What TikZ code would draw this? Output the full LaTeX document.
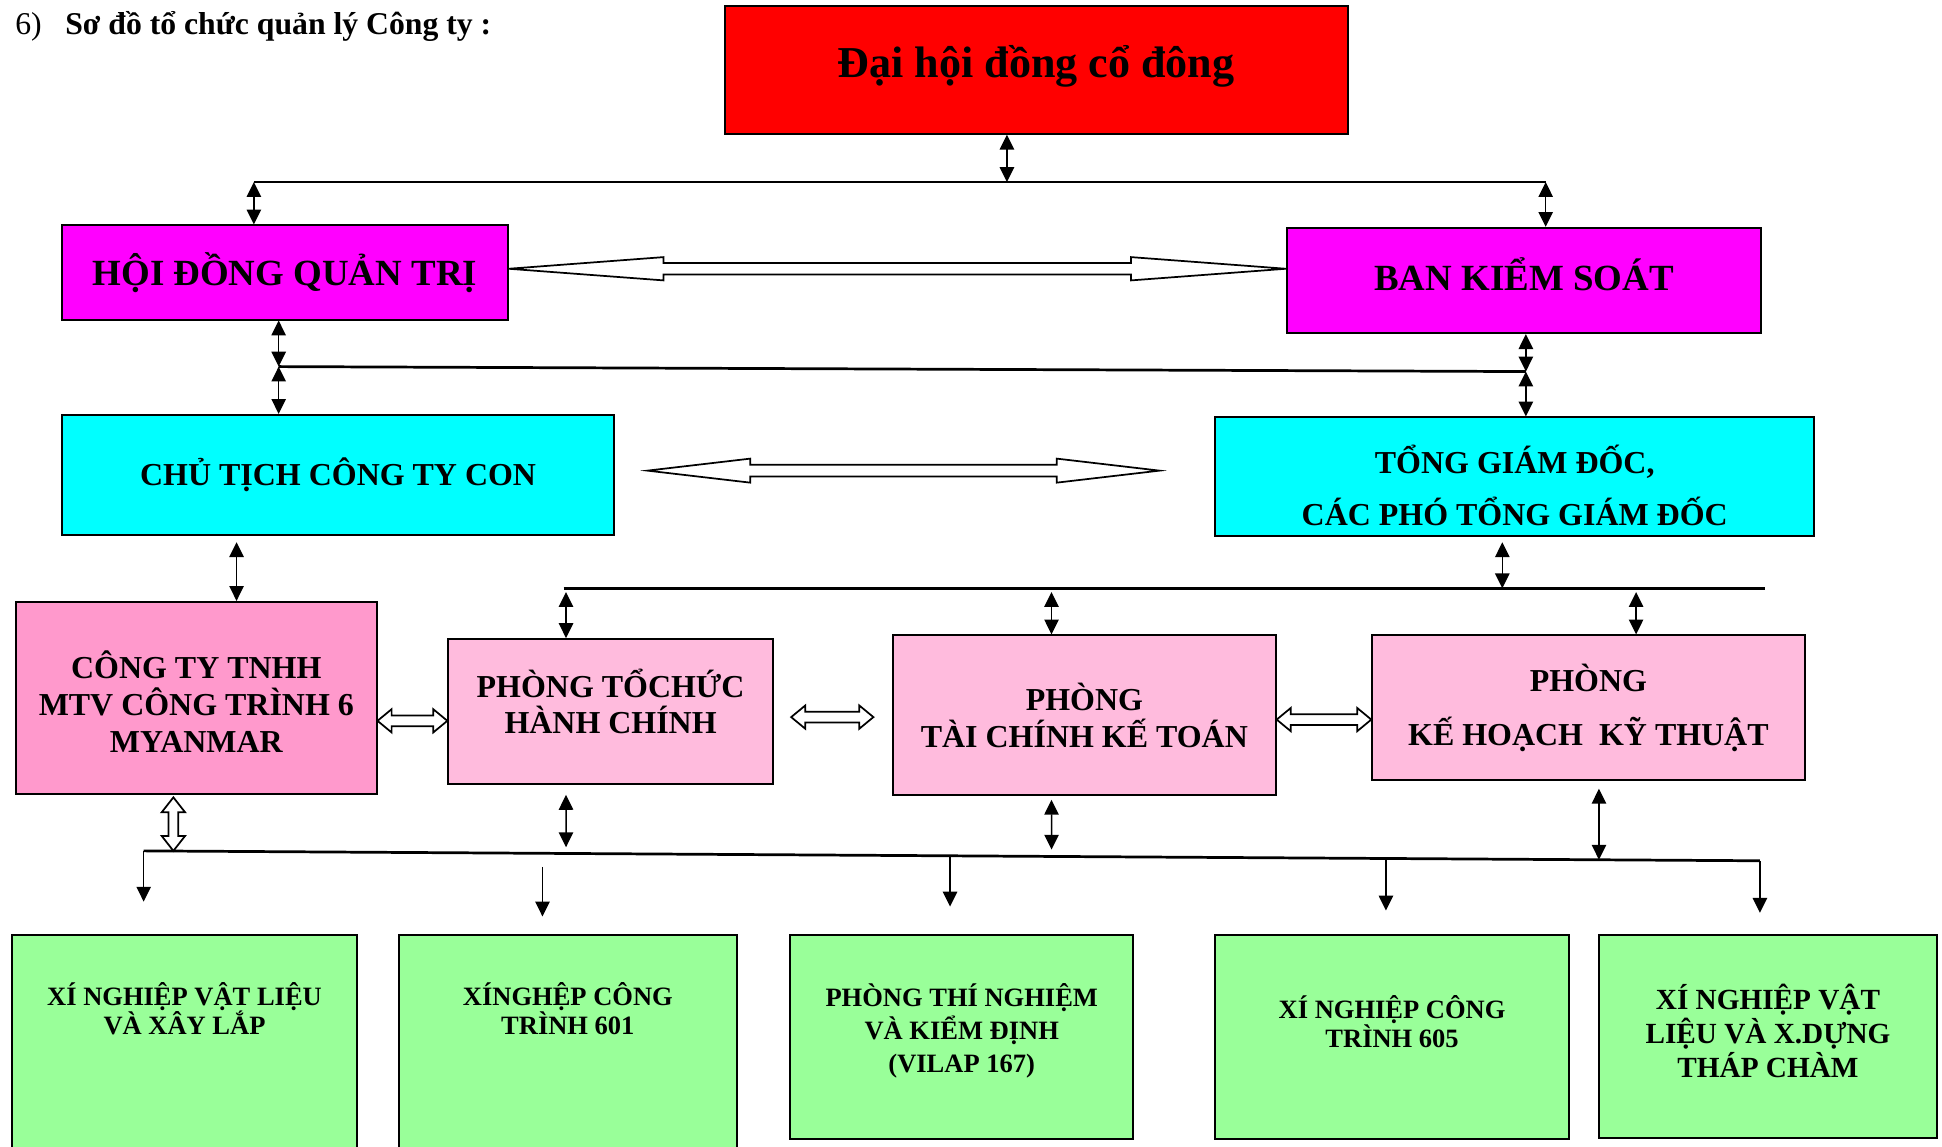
\documentclass[tikz,border=0pt]{standalone}
\usepackage{fontspec}
\setmainfont{Liberation Serif}
\usetikzlibrary{arrows.meta,calc}
\definecolor{hotpink}{RGB}{255,153,204}
\definecolor{lpink}{RGB}{255,187,221}
\definecolor{lgreen}{RGB}{153,255,153}
\definecolor{pmag}{RGB}{255,0,255}
\definecolor{pcyan}{RGB}{0,255,255}
\definecolor{pred}{RGB}{255,0,0}
% horizontal hollow double arrow: start, end, head length, head half width, shaft half width
\newcommand\hollowH[5]{\draw[hollow] let \p1=#1, \p2=#2 in (\x1,\y1) -- (\x1+#3,\y1+#4) -- (\x1+#3,\y1+#5) -- (\x2-#3,\y1+#5) -- (\x2-#3,\y1+#4) -- (\x2,\y1) -- (\x2-#3,\y1-#4) -- (\x2-#3,\y1-#5) -- (\x1+#3,\y1-#5) -- (\x1+#3,\y1-#4) -- cycle;}
% vertical hollow double arrow: top, bottom, head length, head half width, shaft half width
\newcommand\hollowV[5]{\draw[hollow] let \p1=#1, \p2=#2 in (\x1,\y1) -- (\x1+#4,\y1-#3) -- (\x1+#5,\y1-#3) -- (\x1+#5,\y2+#3) -- (\x1+#4,\y2+#3) -- (\x1,\y2) -- (\x1-#4,\y2+#3) -- (\x1-#5,\y2+#3) -- (\x1-#5,\y1-#3) -- (\x1-#4,\y1-#3) -- cycle;}
\tikzset{
  box/.style={draw=black, line width=0.8pt, inner sep=0pt, align=center},
  midfont/.style={font=\fontsize{12.9}{#1}\selectfont\bfseries},
  lbl/.style={anchor=center, inner sep=0pt, align=center},
  gbox/.style={draw=black, line width=0.8pt, fill=lgreen, inner sep=0pt, anchor=north},
  glabel/.style={anchor=north, inner sep=0pt, align=center, font=\fontsize{10.7}{#1}\selectfont\bfseries},
  dbl/.style={{Triangle[length=6pt,width=5.8pt]}-{Triangle[length=6pt,width=5.8pt]}, line width=0.6pt},
  sgl/.style={-{Triangle[length=6pt,width=5.8pt]}, line width=0.6pt},
  bus/.style={line width=1.1pt},
  hollow/.style={draw=black, fill=white, line width=0.7pt, line join=miter},
}
\begin{document}
\begin{tikzpicture}[x=0.5pt,y=-0.5pt]
\useasboundingbox (0,0) rectangle (1568,925.3);

% title
\node[anchor=base west, inner sep=0pt, font=\fontsize{12.8}{15}\selectfont] (title) at (12,28) {6)\hspace{9.5pt}\textbf{Sơ đồ tổ chức quản lý Công ty :}};

% boxes
\node[box, fill=pred, minimum width=251.5pt, minimum height=51.5pt,
  label={[lbl, yshift=1.5pt, font=\fontsize{17.8}{20}\selectfont\bfseries]center:{Đại hội đồng cổ đông}}] (dh) at (836.5,56.5) {};
\node[box, fill=pmag, minimum width=180pt, minimum height=38pt, font=\fontsize{14.9}{17}\selectfont\bfseries] (hdqt) at (230,220) {HỘI ĐỒNG QUẢN TRỊ};
\node[box, fill=pmag, minimum width=191.5pt, minimum height=42.5pt,
  label={[lbl, yshift=2.5pt, font=\fontsize{14.9}{17}\selectfont\bfseries]center:{BAN KIỂM SOÁT}}] (bks) at (1230.5,226.5) {};
\node[box, fill=pcyan, minimum width=223pt, minimum height=48.5pt, midfont=15] (ctc) at (273,383.5) {CHỦ TỊCH CÔNG TY CON};
\node[box, fill=pcyan, minimum width=242pt, minimum height=48pt,
  label={[lbl, yshift=-3.5pt, midfont=21]center:{TỔNG GIÁM ĐỐC,\\CÁC PHÓ TỔNG GIÁM ĐỐC}}] (tgd) at (1223,385) {};
\node[box, fill=hotpink, minimum width=145.5pt, minimum height=77.5pt,
  label={[lbl, yshift=-1.5pt, midfont=14.75]center:{CÔNG TY TNHH\\MTV CÔNG TRÌNH 6\\MYANMAR}}] (cty) at (158.5,563.5) {};
\node[box, fill=lpink, minimum width=131pt, minimum height=58.5pt,
  label={[lbl, yshift=4pt, midfont=14.5]center:{PHÒNG TỔCHỨC\\HÀNH CHÍNH}}] (pt1) at (493,574.5) {};
\node[box, fill=lpink, minimum width=154.5pt, minimum height=64.5pt, midfont=15] (pt2) at (875.5,577.5) {PHÒNG\\TÀI CHÍNH KẾ TOÁN};
\node[box, fill=lpink, minimum width=174.5pt, minimum height=58.5pt, midfont=21.5] (pt3) at (1282.5,571.5) {PHÒNG\\KẾ HOẠCH\ \ KỸ THUẬT};

% green units
\node[gbox, minimum width=139pt, minimum height=95.5pt, label={[glabel=12, yshift=-19.25pt]north:{XÍ NGHIỆP VẬT LIỆU\\VÀ XÂY LẮP}}] (g1) at (149,754) {};
\node[gbox, minimum width=136.5pt, minimum height=95.5pt, label={[glabel=12, yshift=-19.25pt]north:{XÍNGHỆP CÔNG\\TRÌNH 601}}] (g2) at (458.5,754) {};
\node[gbox, minimum width=138.5pt, minimum height=82.5pt, label={[glabel=13.25, yshift=-20pt]north:{PHÒNG THÍ NGHIỆM\\VÀ KIỂM ĐỊNH\\(VILAP 167)}}] (g3) at (776.5,754) {};
\node[gbox, minimum width=143pt, minimum height=82.5pt, label={[glabel=11.5, yshift=-24.75pt]north:{XÍ NGHIỆP CÔNG\\TRÌNH 605}}] (g4) at (1124,754) {};
\node[gbox, minimum width=136.5pt, minimum height=82pt, label={[glabel=13.5, yshift=-20pt, font=\fontsize{11.8}{13.8}\selectfont\bfseries]north:{XÍ NGHIỆP VẬT\\LIỆU VÀ X.DỰNG\\THÁP CHÀM}}] (g5) at (1427.5,754) {};

% top bus
\coordinate (tl) at (205,147);
\coordinate (tr) at (1248,147);
\coordinate (j0) at (813,147);
\draw[bus] (tl) -- (tr);
\draw[dbl] (j0 |- dh.south) -- (j0);
\draw[dbl] (tl) -- (tl |- hdqt.north);
\draw[dbl] (tr) -- (tr |- bks.north);

% big hollow arrows
\hollowH{([yshift=1.5pt]hdqt.east)}{(bks.west)}{62.5pt}{4.7pt}{2.35pt}
\hollowH{([xshift=13pt,yshift=1.75pt]ctc.east)}{([xshift=-22pt]tgd.west)}{41.5pt}{4.85pt}{2.35pt}

% second bus
\coordinate (ml) at (225,296);
\coordinate (mr) at (1232,300);
\draw[bus] (ml) -- (mr);
\draw[dbl] (ml |- hdqt.south) -- (ml);
\draw[dbl] (ml) -- (ml |- ctc.north);
\draw[dbl] (mr |- bks.south) -- (mr);
\draw[dbl] (mr) -- (mr |- tgd.north);

% chairman to subsidiary
\coordinate (c1) at (191,0);
\draw[dbl] ($(c1 |- ctc.south)+(0,5)$) -- (c1 |- cty.north);

% third bus
\coordinate (bl3) at (455,475);
\coordinate (br3) at (1425,475);
\coordinate (t3) at (1213,475);
\coordinate (d1) at (457,475);
\coordinate (d2) at (849,475);
\coordinate (d3) at (1321,475);
\draw[bus] (bl3) -- (br3);
\draw[dbl] ($(t3 |- tgd.south)+(0,4)$) -- (t3);
\draw[dbl] ($(d1)+(0,3)$) -- (d1 |- pt1.north);
\draw[dbl] ($(d2)+(0,3)$) -- (d2 |- pt2.north);
\draw[dbl] ($(d3)+(0,3)$) -- (d3 |- pt3.north);

% small hollow arrows between departments
\hollowH{([yshift=-9.25pt]cty.east)}{(pt1.west)}{5.7pt}{4.7pt}{2.15pt}
\hollowH{([xshift=7pt,yshift=-2.25pt]pt1.east)}{([xshift=-7.5pt]pt2.west)}{5.7pt}{4.7pt}{2.15pt}
\hollowH{([yshift=-1.75pt]pt2.east)}{(pt3.west)}{5.7pt}{4.7pt}{2.15pt}

% bottom bus
\coordinate (bl) at (116,687);
\coordinate (br) at (1421,695);
\draw[bus] (bl) -- (br);
\hollowV{([xshift=-9.25pt,yshift=-1pt]cty.south)}{(bl)}{6pt}{4.7pt}{2pt}
\draw[dbl] ($(d1 |- pt1.south)+(0,8)$) -- ($($(bl)!0.2613!(br)$)+(0,-5)$);
\draw[dbl] ($(d2 |- pt2.south)+(0,3)$) -- ($($(bl)!0.5617!(br)$)+(0,-5.5)$);
\coordinate (e3) at ($(bl)!0.9004!(br)$);
\draw[dbl] ($(e3 |- pt3.south)+(0,6)$) -- (e3);

% drops to units
\coordinate (f2) at (438,700);
\coordinate (f3) at ($(bl)!0.4989!(br)$);
\coordinate (f4) at ($(bl)!0.7686!(br)$);
\draw[sgl] (bl) -- ($(bl)+(0,41)$);
\draw[sgl] (f2) -- ($(f2)+(0,40)$);
\draw[sgl] (f3) -- ($(f3)+(0,41)$);
\draw[sgl] (f4) -- ($(f4)+(0,42)$);
\draw[sgl] (br) -- ($(br)+(0,42)$);
\end{tikzpicture}
\end{document}
